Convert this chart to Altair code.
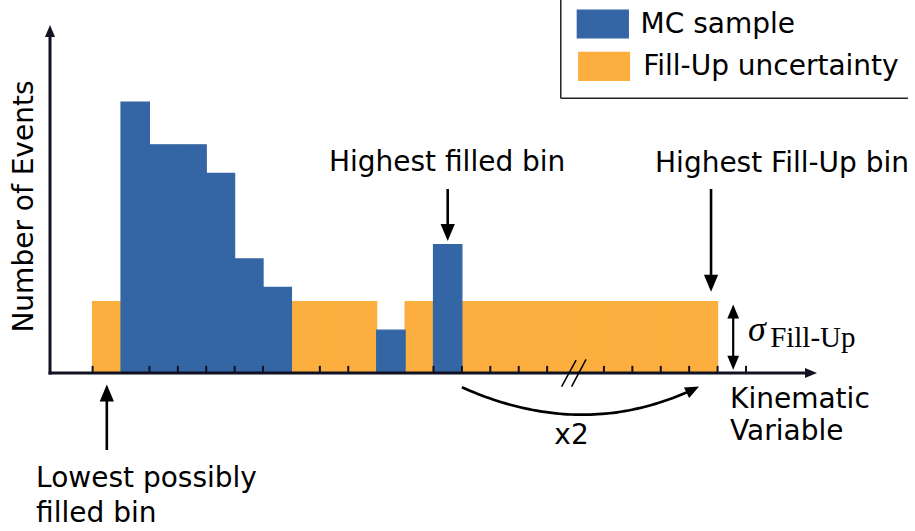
import math

import altair as alt
import numpy as np
import pandas as pd

# ---------------------------------------------------------------- data
bin_index = list(range(22))
mc_counts = [0, 38, 32, 32, 28, 16, 12, 0, 0, 0, 6, 0, 18, 0, 0, 0, 0, 0, 0, 0, 0, 0]
sigma_fillup = 10
lowest_bin = 0
highest_filled_bin = 12
highest_fillup_bin = 21
tick_edges = [0, 2, 3, 4, 5, 6, 8, 9, 12, 13, 14, 15, 16, 18, 19, 20, 21, 22, 23]
legend_labels = ["MC sample", "Fill-Up uncertainty"]
legend_colors = ["#3465a4", "#fcaf3e"]

# ---------------------------------------------------------------- layout
W, H = 767, 348
X_DOM = [-1.5, 25.5]
Y_DOM = [0.0, 48.8]
PX = W / (X_DOM[1] - X_DOM[0])
PY = H / (Y_DOM[1] - Y_DOM[0])
AXIS = "#111122"
INK = "#000000"
FONT = "DejaVu Sans"

xs = alt.Scale(domain=X_DOM, nice=False, zero=False)
ys = alt.Scale(domain=Y_DOM, nice=False, zero=False)

# ---------------------------------------------------------------- bars
bars = pd.DataFrame({"bin": bin_index, "mc": mc_counts})
bars["lo"] = bars["bin"]
bars["hi"] = bars["bin"] + 1
bars["base"] = 0.0
in_range = (bars["bin"] >= lowest_bin) & (bars["bin"] <= highest_fillup_bin)
bars["fill"] = np.where(in_range & (bars["mc"] == 0), sigma_fillup, 0)


def rects(df, top, color):
    # an outline in the fill colour closes the seams between neighbouring bins
    return alt.Chart(df).mark_rect(color=color, stroke=color, strokeWidth=1.2).encode(
        x=alt.X("lo:Q", scale=xs, axis=None),
        x2="hi:Q",
        y=alt.Y("base:Q", scale=ys, axis=None),
        y2=f"{top}:Q",
    )


fill_layer = rects(bars[bars["fill"] > 0], "fill", legend_colors[1])
mc_layer = rects(bars[bars["mc"] > 0], "mc", legend_colors[0])

# ---------------------------------------------------------------- arrows
segments = []
heads = []
HEAD_PATH = "M0,0 L-1,-0.42 L-1,0.42 Z"


def arrow(x0, y0, x1, y1, head, width, color=INK, both=False):
    sx, sy = (x1 - x0) * PX, -(y1 - y0) * PY
    n = math.hypot(sx, sy)
    ux, uy = sx / n, sy / n
    ang = math.degrees(math.atan2(uy, ux)) % 360
    back = head * 0.8
    ex, ey = x1 - ux * back / PX, y1 + uy * back / PY
    bx, by = x0, y0
    heads.append(dict(x=x1, y=y1, angle=ang, size=(2 * head) ** 2, c=color))
    if both:
        bx, by = x0 + ux * back / PX, y0 - uy * back / PY
        heads.append(dict(x=x0, y=y0, angle=(ang + 180) % 360, size=(2 * head) ** 2, c=color))
    segments.append(dict(x=bx, y=by, x2=ex, y2=ey, w=width, c=color))


# coordinate axes
arrow(X_DOM[0] - 0.05, 0, 25.5, 0, 12, 3, AXIS)
arrow(X_DOM[0], -0.2, X_DOM[0], Y_DOM[1], 12, 3, AXIS)
# annotation arrows
arrow(lowest_bin + 0.5, -10.8, lowest_bin + 0.5, -1.6, 17, 2.6)
arrow(highest_filled_bin + 0.5, 25.8, highest_filled_bin + 0.5, mc_counts[highest_filled_bin] + 0.5, 17, 2.6)
arrow(highest_fillup_bin + 0.77, 25.8, highest_fillup_bin + 0.77, sigma_fillup + 1.4, 17, 2.6)
arrow(22.55, 0.45, 22.55, sigma_fillup - 0.4, 14, 2.2, both=True)

# curved "x2" arrow (quadratic Bezier)
P0, C, P2 = (13.0, -2.0), (17.35, -9.75), (21.35, -1.9)
t = np.linspace(0, 0.95, 60)
arc = pd.DataFrame({
    "x": (1 - t) ** 2 * P0[0] + 2 * (1 - t) * t * C[0] + t ** 2 * P2[0],
    "y": (1 - t) ** 2 * P0[1] + 2 * (1 - t) * t * C[1] + t ** 2 * P2[1],
    "k": np.arange(len(t)),
})
ex, ey = (P2[0] - C[0]) * PX, -(P2[1] - C[1]) * PY
heads.append(dict(x=P2[0], y=P2[1], angle=math.degrees(math.atan2(ey, ex)) % 360,
                  size=(2 * 14) ** 2, c=INK))

# axis break marks
segments.append(dict(x=16.51, y=-1.92, x2=17.02, y2=1.82, w=1.5, c=INK))
segments.append(dict(x=16.86, y=-1.92, x2=17.37, y2=1.92, w=1.5, c=INK))

# legend frame
segments.append(dict(x=16.48, y=53.0, x2=16.48, y2=38.52, w=1.5, c="#222222"))
segments.append(dict(x=16.48, y=38.52, x2=28.70, y2=38.52, w=1.5, c="#222222"))

seg_df = pd.DataFrame(segments)
head_df = pd.DataFrame(heads)

seg_layer = alt.Chart(seg_df).mark_rule(strokeCap="butt").encode(
    x=alt.X("x:Q", scale=xs, axis=None), y=alt.Y("y:Q", scale=ys, axis=None),
    x2="x2:Q", y2="y2:Q",
    strokeWidth=alt.StrokeWidth("w:Q", scale=None),
    color=alt.Color("c:N", scale=None),
)

head_layer = alt.Chart(head_df).mark_point(shape=HEAD_PATH, filled=True, opacity=1, strokeWidth=0).encode(
    x=alt.X("x:Q", scale=xs, axis=None), y=alt.Y("y:Q", scale=ys, axis=None),
    angle=alt.Angle("angle:Q", scale=None),
    size=alt.Size("size:Q", scale=None),
    color=alt.Color("c:N", scale=None),
)

arc_layer = alt.Chart(arc).mark_line(color=INK, strokeWidth=2.7).encode(
    x=alt.X("x:Q", scale=xs, axis=None), y=alt.Y("y:Q", scale=ys, axis=None), order="k:Q"
)

# ticks on the x axis
ticks = pd.DataFrame({"e": tick_edges, "y0": 0.0, "y1": 1.0})
tick_layer = alt.Chart(ticks).mark_rule(color=AXIS, strokeWidth=2).encode(
    x=alt.X("e:Q", scale=xs, axis=None), y=alt.Y("y0:Q", scale=ys, axis=None), y2="y1:Q"
)

# ---------------------------------------------------------------- legend
leg = pd.DataFrame({
    "label": legend_labels,
    "color": legend_colors,
    "x0": [17.04, 17.09], "x1": [18.88, 18.92],
    "y0": [46.91, 40.95], "y1": [50.98, 45.06],
    "tx": [19.29, 19.38], "ty": [47.64, 41.76],
})
leg_rect = alt.Chart(leg).mark_rect().encode(
    x=alt.X("x0:Q", scale=xs, axis=None), x2="x1:Q",
    y=alt.Y("y0:Q", scale=ys, axis=None), y2="y1:Q",
    color=alt.Color("color:N", scale=None),
)
leg_text = alt.Chart(leg).mark_text(font=FONT, fontSize=28, align="left", baseline="alphabetic", color=INK).encode(
    x=alt.X("tx:Q", scale=xs, axis=None), y=alt.Y("ty:Q", scale=ys, axis=None), text="label:N"
)

# ---------------------------------------------------------------- texts
center_txt = pd.DataFrame({
    "text": ["Highest filled bin", "Highest Fill-Up bin", "x2"],
    "x": [12.48, 24.27, 16.86],
    "y": [28.33, 28.14, -9.96],
})
left_txt = pd.DataFrame({
    "text": ["Kinematic", "Variable", "Lowest possibly", "filled bin"],
    "x": [22.44, 22.44, -1.99, -1.99],
    "y": [-4.95, -9.40, -15.99, -20.85],
})


def text_layer(df, align, **kw):
    return alt.Chart(df).mark_text(font=FONT, fontSize=28, align=align, baseline="alphabetic",
                                   color=INK, **kw).encode(
        x=alt.X("x:Q", scale=xs, axis=None), y=alt.Y("y:Q", scale=ys, axis=None), text="text:N"
    )


ylabel = pd.DataFrame({"text": ["Number of Events"], "x": [-2.09], "y": [23.34]})
sig = pd.DataFrame({"text": ["σ"], "x": [23.07], "y": [4.43]})
sub = pd.DataFrame({"text": ["Fill-Up"], "x": [23.85], "y": [3.65]})

sig_layer = alt.Chart(sig).mark_text(font="Liberation Serif", fontStyle="italic", fontSize=36,
                                     align="left", baseline="alphabetic", color=INK).encode(
    x=alt.X("x:Q", scale=xs, axis=None), y=alt.Y("y:Q", scale=ys, axis=None), text="text:N")
sub_layer = alt.Chart(sub).mark_text(font="Liberation Serif", fontSize=29,
                                     align="left", baseline="alphabetic", color=INK).encode(
    x=alt.X("x:Q", scale=xs, axis=None), y=alt.Y("y:Q", scale=ys, axis=None), text="text:N")

chart = alt.layer(
    fill_layer, mc_layer, tick_layer, seg_layer, arc_layer, head_layer,
    leg_rect, leg_text,
    text_layer(center_txt, "center"), text_layer(left_txt, "left"),
    text_layer(ylabel, "center", angle=270),
    sig_layer, sub_layer,
).properties(
    width=W, height=H,
    autosize=alt.AutoSizeParams(type="none"),
    padding={"left": 50, "top": 25, "right": 98, "bottom": 158},
    background="white",
).configure_view(stroke=None)

chart.save("out.html", embed_options={"renderer": "svg", "actions": False})
